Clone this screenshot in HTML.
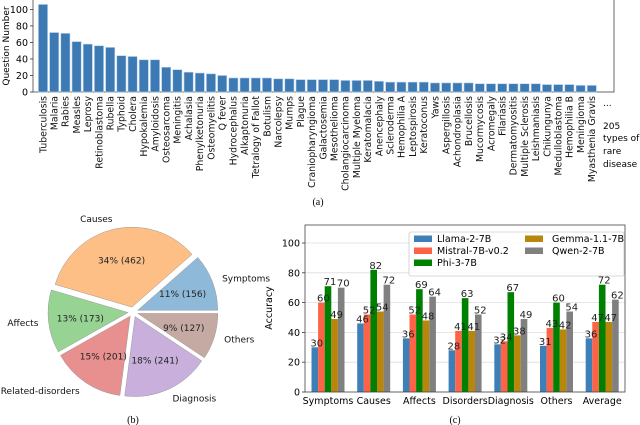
<!DOCTYPE html>
<html><head><meta charset="utf-8"><style>
body{margin:0;background:#fff;}
svg{display:block;font-family:"DejaVu Sans","Liberation Sans",sans-serif;}
</style></head><body>
<svg id="fig" width="640" height="425" viewBox="0 0 640 425">
<g id="top"></g>
<g id="pie"></g>
<g id="acc"></g>
<text x="318" y="205" font-size="10" text-anchor="middle" font-family="Liberation Serif,serif">(a)</text>
<text x="133" y="423" font-size="10" text-anchor="middle" font-family="Liberation Serif,serif">(b)</text>
<text x="455" y="423" font-size="10" text-anchor="middle" font-family="Liberation Serif,serif">(c)</text>
</svg>
<script>
const diseases=["Tuberculosis","Malaria","Rabies","Measles","Leprosy","Retinoblastoma","Rubella","Typhoid","Cholera","Hypokalemia","Amyloidosis","Osteosarcoma","Meningitis","Achalasia","Phenylketonuria","Osteomyelitis","Q fever","Hydrocephalus","Alkaptonuria","Tetralogy of Fallot","Botulism","Narcolepsy","Mumps","Plague","Craniopharyngioma","Galactosemia","Mesothelioma","Cholangiocarcinoma","Multiple Myeloma","Keratomalacia","Anencephaly","Scleroderma","Hemophilia A","Leptospirosis","Keratoconus","Yaws","Aspergillosis","Achondroplasia","Brucellosis","Mucormycosis","Acromegaly","Filariasis","Dermatomyositis","Multiple Sclerosis","Leishmaniasis","Chikungunya","Medulloblastoma","Hemophilia B","Meningioma","Myasthenia Gravis"];
const counts=[106,72,71,61,58,56,54,44,43,39,39,30,27,24,23,22,20,17,17,17,17,16,16,15,15,15,15,14,14,14,13,12,12,12,12,11,11,11,11,10,10,10,10,10,10,9,9,9,8,8];
const topTicks=[0,20,40,60,80,100];

const pieLabels=["Symptoms","Causes","Affects","Related-disorders","Diagnosis","Others"];
const pieValues=[156,462,173,201,241,127];
const pieColors=["#8fb9d9","#fdbf86","#97d494","#e88f8f","#c9afdc","#c5aaa3"];

const categories=["Symptoms","Causes","Affects","Disorders","Diagnosis","Others","Average"];
const models=["Llama-2-7B","Mistral-7B-v0.2","Phi-3-7B","Gemma-1.1-7B","Qwen-2-7B"];
const llama=[30,46,36,28,32,31,36];
const mistral=[60,52,52,41,34,43,47];
const phi=[71,82,69,63,67,60,72];
const gemma=[49,54,48,41,38,42,47];
const qwen=[70,72,64,52,49,54,62];
const accTicks=[0,20,40,60,80,100];

const NS="http://www.w3.org/2000/svg";
function mk(parent,tag,attrs,txt){const e=document.createElementNS(NS,tag);for(const k in attrs)e.setAttribute(k,attrs[k]);if(txt!==undefined)e.textContent=txt;parent.appendChild(e);return e;}

// ---- top chart
const T=document.getElementById('top');
const tx=i=>43+i*11.2, ty=v=>92-0.826*v;
mk(T,'rect',{x:33,y:-1,width:581,height:93,fill:'none',stroke:'#444','stroke-width':0.8});
diseases.forEach((d,i)=>{
  const b=mk(T,'rect',{x:tx(i)-4.6,y:ty(counts[i]),width:9.2,height:ty(0)-ty(counts[i]),fill:'#3d7ab4',stroke:'#b9d3ea','stroke-width':0.6});
  
  
  const t=mk(T,'text',{transform:`translate(${tx(i)+3.3},96) rotate(-90)`,'text-anchor':'end','font-size':9.3,fill:'#111'},d);
  
  
});
topTicks.forEach(v=>{
  mk(T,'line',{x1:30,x2:33,y1:ty(v),y2:ty(v),stroke:'#333','stroke-width':0.8});
  const t=mk(T,'text',{x:28,y:ty(v)+3.5,'text-anchor':'end','font-size':9.5},v);
  
  
});
mk(T,'text',{transform:'translate(9,46) rotate(-90)','text-anchor':'middle','font-size':9},'Question Number');
mk(T,'text',{x:603,y:106,'font-size':9},'...');
[['205',129],['types of',141],['rare',154],['disease',167]].forEach(([s,y])=>mk(T,'text',{x:603,y:y,'font-size':9},s));

// ---- pie
const P=document.getElementById('pie');
const cx=133,cy=312,r=80,total=pieValues.reduce((a,b)=>a+b,0);
let a0=0;
pieValues.forEach((v,i)=>{
  const frac=v/total,a1=a0+frac*2*Math.PI,mid=(a0+a1)/2;
  const ox=cx+5*Math.cos(mid),oy=cy-5*Math.sin(mid);
  const p1=[ox+r*Math.cos(a0),oy-r*Math.sin(a0)],p2=[ox+r*Math.cos(a1),oy-r*Math.sin(a1)];
  const w=mk(P,'path',{d:`M${ox},${oy}L${p1[0]},${p1[1]}A${r},${r} 0 ${frac>0.5?1:0} 0 ${p2[0]},${p2[1]}Z`,fill:pieColors[i],stroke:'#999','stroke-width':0.5});
  
  
  const pct=Math.round(frac*100)+'% ('+v+')';
  mk(P,'text',{x:ox+0.6*r*Math.cos(mid),y:oy-0.6*r*Math.sin(mid)+3.5,'text-anchor':'middle','font-size':9,fill:'#222'},pct);
  const lx=cx+1.12*(r+5)*Math.cos(mid),ly=cy-1.12*(r+5)*Math.sin(mid);
  const l=mk(P,'text',{x:lx,y:ly+3,'text-anchor':Math.cos(mid)>0.1?'start':(Math.cos(mid)<-0.1?'end':'middle'),'font-size':9,fill:'#111'},pieLabels[i]);
  
  
  a0=a1;
});

// ---- accuracy chart
const A=document.getElementById('acc');
const X0=305,X1=625,Yb=392,Yt=225;
const ay=v=>Yb-1.49*v, ax=i=>328+i*45.7;
accTicks.forEach(v=>{
  mk(A,'line',{x1:X0,x2:X1,y1:ay(v),y2:ay(v),stroke:'#ddd','stroke-width':0.8});
  mk(A,'line',{x1:X0-3,x2:X0,y1:ay(v),y2:ay(v),stroke:'#333','stroke-width':0.8});
  const t=mk(A,'text',{x:X0-5,y:ay(v)+3.5,'text-anchor':'end','font-size':9.5},v);
  
  
});
const series=[llama,mistral,phi,gemma,qwen],cols=["#3f7fb8","#ff6347","#008000","#b8860b","#808080"];
const bw=6.6;
series.forEach((s,k)=>{
  s.forEach((v,i)=>{
    const x=ax(i)+(k-2)*bw-bw/2;
    const b=mk(A,'rect',{x:x,y:ay(v),width:bw,height:Yb-ay(v),fill:cols[k]});
    
    
  });
});
series.forEach((s,k)=>{
  s.forEach((v,i)=>{
    const x=ax(i)+(k-2)*bw-bw/2;
    const t=mk(A,'text',{x:x+bw/2+2,y:ay(v)-1,'text-anchor':'middle','font-size':10,fill:'#222'},v);
    
    
  });
});
categories.forEach((c,i)=>{
  const t=mk(A,'text',{x:ax(i),y:404,'text-anchor':'middle','font-size':9.5},c);
  
  
});
mk(A,'rect',{x:X0,y:Yt,width:X1-X0,height:Yb-Yt,fill:'none',stroke:'#444','stroke-width':0.8});
mk(A,'text',{transform:'translate(272,308) rotate(-90)','text-anchor':'middle','font-size':9.5},'Accuracy');
const L=mk(A,'g',{});


mk(L,'rect',{x:409,y:232,width:215,height:44,fill:'#fff','fill-opacity':0.85,stroke:'#ccc','stroke-width':0.8,rx:2});
const pos=[[414,239],[414,251],[414,263],[525,239],[525,251]];
models.forEach((m,k)=>{
  mk(L,'rect',{x:pos[k][0],y:pos[k][1]-3.5,width:18,height:6.5,fill:cols[k]});
  const t=mk(L,'text',{x:pos[k][0]+(k<3?23:27),y:pos[k][1]+3,'font-size':9.5},m);
  
  
});
</script>
</body></html>
